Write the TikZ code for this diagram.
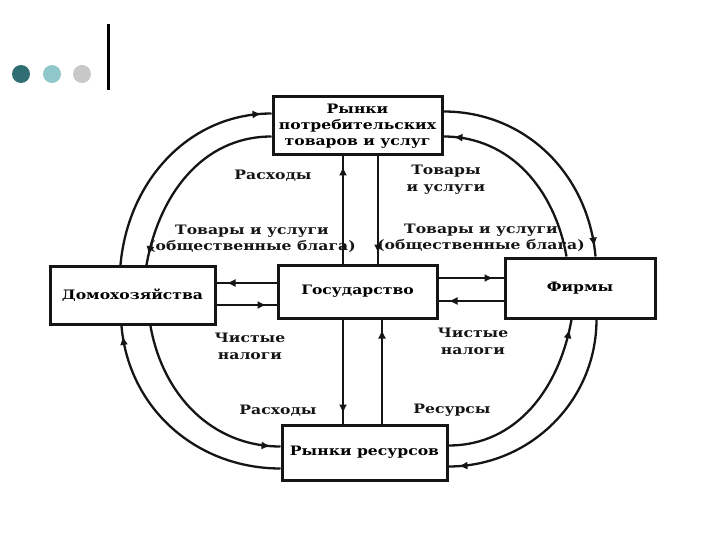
\documentclass[tikz,border=0pt]{standalone}
\usepackage{fontspec}
\setmainfont{DejaVu Serif}[FakeStretch=1.2]
\usetikzlibrary{calc,arrows.meta,decorations.markings}
\definecolor{dotA}{HTML}{2F6E73}
\definecolor{dotB}{HTML}{8FC7CB}
\definecolor{dotC}{HTML}{C8C8C8}
\definecolor{ink}{HTML}{151515}
\begin{document}
\begin{tikzpicture}[x=1pt,y=1pt,
  font=\bfseries\fontsize{13}{17}\selectfont,
  box/.style={draw=ink, line width=3pt, align=center, inner sep=0pt, fill=white},
  conn/.style={draw=ink, line width=2.3pt},
  tipend/.style={postaction={decorate},
    decoration={markings, mark=at position -10pt with {\arrow{Latex[length=9pt,width=8pt]}}}},
  lbl/.style={align=center, inner sep=0pt, text=ink}]
\useasboundingbox (0,0) rectangle (720,-540);
% decoration
\fill[dotA] (21,-74) circle (9);
\fill[dotB] (52,-74) circle (9);
\fill[dotC] (82,-74) circle (9);
\draw[black, line width=3pt] (108,-24) -- (108,-90);
% boxes
\node[box, minimum width=169pt, minimum height=58pt] (pm) at (357.5,-126) {Рынки\\[-1pt]потребительских\\[-1pt]товаров и услуг};
\node[box, minimum width=159pt, minimum height=53pt] (gov) at (357.5,-291.5) {Государство};
\node[box, minimum width=165pt, minimum height=58pt] (hh) at (132.5,-295.5) {Домохозяйства};
\node[box, minimum width=150pt, minimum height=60pt] (firms) at (580,-288) {Фирмы};
\node[box, minimum width=165pt, minimum height=55pt] (rm) at (364.5,-452.5) {Рынки ресурсов};
% helper coordinates
\coordinate (va) at (343,0);
\coordinate (vb) at (378,0);
\coordinate (vc) at (382,0);
\coordinate (ha) at (0,-283);
\coordinate (hb) at (0,-305);
\coordinate (hc) at (0,-278);
\coordinate (hd) at (0,-301);
% vertical connectors
\draw[conn, tipend] (gov.north -| va) -- (pm.south -| va);
\draw[conn, tipend] (pm.south -| vb) -- (gov.north -| vb);
\draw[conn, tipend] (gov.south -| va) -- (rm.north -| va);
\draw[conn, tipend] (rm.north -| vc) -- (gov.south -| vc);
% horizontal connectors
\draw[conn, tipend] (gov.west |- ha) -- (hh.east |- ha);
\draw[conn, tipend] (hh.east |- hb) -- (gov.west |- hb);
\draw[conn, tipend] (gov.east |- hc) -- (firms.west |- hc);
\draw[conn, tipend] (firms.west |- hd) -- (gov.east |- hd);
% arcs
\draw[conn, tipend] ($(hh.north west)+(72,0)$) to[out=85,in=180] ($(pm.north west)+(0,-18)$);
\draw[conn, tipend] ($(pm.north west)+(0,-41)$) to[out=180,in=80] ($(hh.north west)+(98,0)$);
\draw[conn, tipend] ($(pm.north east)+(0,-16)$) to[out=0,in=95] ($(firms.north west)+(92,0)$);
\draw[conn, tipend] ($(firms.north west)+(63,0)$) to[out=100,in=0] ($(pm.north east)+(0,-41)$);
\draw[conn, tipend] ($(rm.north east)+(0,-22)$) to[out=0,in=-100] ($(firms.south west)+(68,0)$);
\draw[conn, tipend] ($(firms.south west)+(93,0)$) to[out=-90,in=0] ($(rm.north east)+(0,-43)$);
\draw[conn, tipend] ($(hh.south west)+(102,0)$) to[out=-80,in=180] ($(rm.north west)+(0,-23)$);
\draw[conn, tipend] ($(rm.north west)+(0,-45)$) to[out=180,in=-85] ($(hh.south west)+(73,0)$);
% labels
\node[lbl] (l1) at (273,-176) {Расходы};
\node[lbl] (l2) at (446,-180) {Товары\\и услуги};
\node[lbl] (l3) at (252,-239) {Товары и услуги\\[-1pt](общественные блага)};
\node[lbl] (l4) at (481,-238) {Товары и услуги\\[-1pt](общественные блага)};
\node[lbl] (l5) at (250,-346) {Чистые\\налоги};
\node[lbl] (l6) at (473,-341) {Чистые\\налоги};
\node[lbl] (l7) at (278,-411) {Расходы};
\node[lbl] (l8) at (452,-410) {Ресурсы};
\end{tikzpicture}
\end{document}
